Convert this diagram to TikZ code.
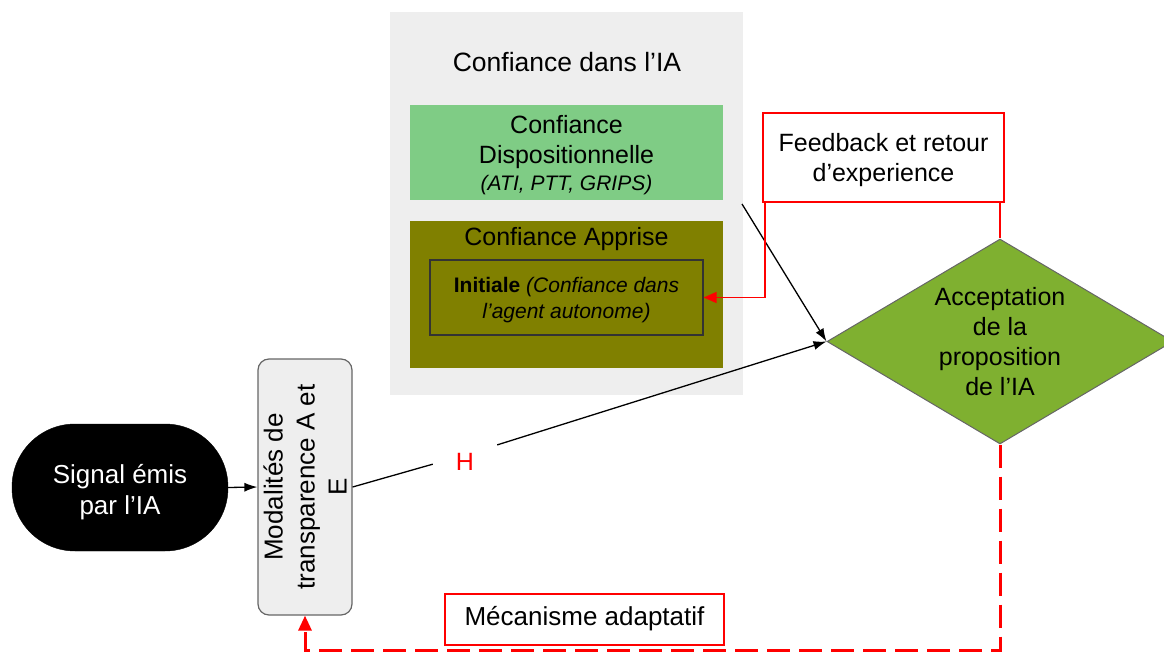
\documentclass[tikz,border=0pt]{standalone}
\usepackage{fontspec}
\setmainfont{Liberation Sans}
\usetikzlibrary{shapes.geometric,arrows.meta}
\definecolor{bggray}{HTML}{EEEEEE}
\definecolor{lgreen}{HTML}{7FCC85}
\definecolor{olivec}{HTML}{808000}
\definecolor{diagreen}{HTML}{7FB030}
\definecolor{redc}{HTML}{FF0000}
\definecolor{edgegray}{HTML}{666666}
\tikzset{
  txt/.style={align=center, font=\fontsize{25}{30}\selectfont, inner sep=0pt},
  plainbox/.style={draw=none, inner sep=0pt},
  redbox/.style={draw=redc, line width=1.2pt, fill=white, inner sep=0pt},
  blackline/.style={draw=black, line width=1.3pt},
  blackarrow/.style={blackline, -{Latex[length=13pt,width=9pt]}},
  redline/.style={draw=redc, line width=1.5pt},
  reddash/.style={draw=redc, line width=3pt, dash pattern=on 23pt off 9pt},
}
\begin{document}
\begin{tikzpicture}[x=1pt,y=-1pt]
\useasboundingbox (0,0) rectangle (1164,652);
\clip (0,0) rectangle (1164,652);
% big grey container
\node[plainbox, fill=bggray, minimum width=353pt, minimum height=383pt] (ia) at (566.5,203.5) {};
\node[txt, font=\fontsize{26.5}{30}\selectfont] (iatitle) at (567,62) {Confiance dans l’IA};
% dispositional
\node[plainbox, fill=lgreen, minimum width=313pt, minimum height=95pt] (disp) at (566.5,152.5) {};
\node[txt] (disptxt) at (566.5,155) {Confiance\\Dispositionnelle\\[-3pt]{\fontsize{21}{26}\selectfont\itshape (ATI, PTT, GRIPS)}};
% learned
\node[plainbox, fill=olivec, minimum width=313pt, minimum height=147pt] (apprise) at (566.5,294.5) {};
\node[txt] (apprisetxt) at (566.5,239) {Confiance Apprise};
\node[draw=black!80, line width=1.2pt, fill=olivec, inner sep=0pt, minimum width=273pt, minimum height=75pt] (init) at (566.5,297.5) {};
\node[txt, font=\fontsize{21}{26}\selectfont] (inittxt) at (566.5,300) {\textbf{Initiale} \textit{(Confiance dans}\\\textit{l’agent autonome)}};
% feedback
\node[redbox, minimum width=241pt, minimum height=89pt] (fb) at (883.5,157.5) {};
\node[txt] (fbtxt) at (883.5,160) {Feedback et retour\\d’experience};
% diamond
\node[diamond, draw=edgegray, line width=1pt, fill=diagreen, inner sep=0pt, minimum width=346pt, minimum height=205pt] (acc) at (1000,341.5) {};
\node[txt] (acctxt) at (1000,342) {Acceptation\\de la\\proposition\\de l’IA};
% signal
\node[fill=black, draw=black, rounded corners=63pt, minimum width=216pt, minimum height=127pt, inner sep=0pt] (sig) at (120,487.5) {};
\node[txt, text=white, font=\fontsize{26}{31}\selectfont] (sigtxt) at (120,492) {Signal émis\\par l’IA};
% modalites
\node[draw=edgegray, line width=1.2pt, fill=bggray, rounded corners=11pt, minimum width=94pt, minimum height=256pt, inner sep=0pt] (mod) at (305,487) {};
\node[txt, rotate=90, font=\fontsize{26}{32}\selectfont] (modtxt) at (305,487) {Modalités de\\transparence A et\\E};
% mecanisme
\node[redbox, minimum width=279pt, minimum height=51pt] (mec) at (584.5,619.5) {};
\node[txt, font=\fontsize{26}{30}\selectfont] (mectxt) at (584.5,619) {Mécanisme adaptatif};
% H label
\node[inner sep=0pt, minimum width=64pt, minimum height=30pt, text=redc, font=\fontsize{25}{30}\selectfont] (hlab) at (465,455) {\raisebox{-15pt}[0pt][0pt]{H}};
% coordinates
\coordinate (fbl) at (765,202);
\coordinate (fbr) at (1000,202);
\coordinate (dispout) at (742,204);
\coordinate (loopcorner) at (1000,650);
% connectors
\draw[blackarrow] (sig.east) -- (mod.west);
\draw[blackline] (mod.east) -- (hlab);
\draw[blackarrow] (hlab) -- (acc.west);
\draw[blackarrow] (dispout) -- (acc.west);
\draw[redline, -{Triangle[length=13pt,width=11pt]}] (fbl) |- (init.east);
\draw[redline] (fbr) -- (acc.north);
\draw[reddash, -{Triangle[length=15pt,width=13pt,sep=0pt]}] (acc.south) -- (loopcorner) -| (mod.south);
\end{tikzpicture}
\end{document}
